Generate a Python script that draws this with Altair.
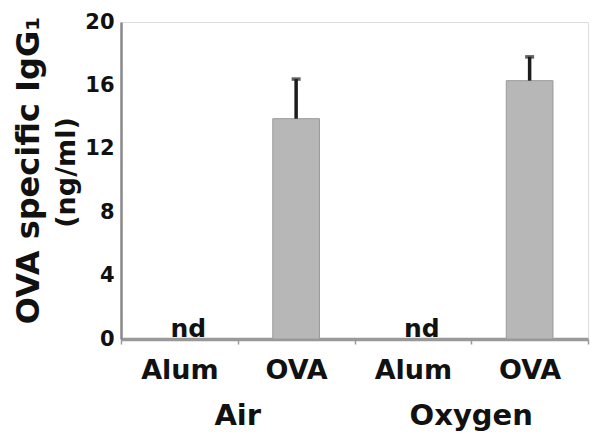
import altair as alt
import pandas as pd

# ---- data ----
groups = ["Air", "Air", "Oxygen", "Oxygen"]
treatments = ["Alum", "OVA", "Alum", "OVA"]
means = [0.0, 13.9, 0.0, 16.3]
upper = [0.0, 16.4, 0.0, 17.8]
detected = [False, True, False, True]
y_ticks = [0, 4, 8, 12, 16, 20]
group_names = ["Air", "Oxygen"]

FONT = "DejaVu Sans"
keys = [f"{g}|{t}" for g, t in zip(groups, treatments)]

df = pd.DataFrame({
    "key": keys,
    "group": groups,
    "treatment": treatments,
    "mean": means,
    "upper": upper,
    "detected": detected,
    "nd": ["" if d else "nd" for d in detected],
})
grp_df = pd.DataFrame({"group": group_names,
                       "key": [f"{g}|OVA" for g in group_names]})

x_scale = alt.Scale(domain=keys, paddingInner=0, paddingOuter=0)
y_scale = alt.Scale(domain=[0, 20], nice=False, zero=True)

x_enc = alt.X(
    "key:N", scale=x_scale, sort=keys, title=None,
    axis=alt.Axis(
        labelExpr="split(datum.value, '|')[1]",
        labelAngle=0, labelFont=FONT, labelFontSize=27, labelFontWeight="bold",
        labelColor="#111", labelPadding=13,
        tickBand="extent", tickSize=5, tickColor="#999", tickWidth=1.5,
        domainColor="#999", domainWidth=3.5,
    ),
)
y_enc = alt.Y(
    "mean:Q", scale=y_scale,
    axis=alt.Axis(
        values=y_ticks, grid=False, tickSize=0,
        labelFont=FONT, labelFontSize=21, labelFontWeight="bold",
        labelColor="#111", labelPadding=7,
        domainColor="#888", domainWidth=2.5,
        title="(ng/ml)", titleFont=FONT, titleFontSize=27, titleFontWeight="bold",
        titleColor="#111", titleX=-55, titleY=150, titleAngle=270,
        titleAlign="center", titleBaseline="middle",
    ),
)

base = alt.Chart(df)

bars = base.transform_filter("datum.detected").mark_bar(
    width=alt.RelativeBandSize(0.4), fill="#b7b7b7", stroke="#9a9a9a", strokeWidth=1
).encode(x=x_enc, y=y_enc)

err = base.transform_filter("datum.detected").mark_rule(
    color="#1c1c1c", strokeWidth=3.5
).encode(x="key:N", y="mean:Q", y2="upper:Q")

cap = base.transform_filter("datum.detected").mark_tick(
    color="#1c1c1c", thickness=3.5, size=9
).encode(x="key:N", y="upper:Q")

nd_text = base.transform_filter("!datum.detected").mark_text(
    font=FONT, fontSize=25, fontWeight="bold", color="#111",
    baseline="alphabetic", dy=-2, dx=9
).encode(x="key:N", y="mean:Q", text="nd:N")

grp_text = alt.Chart(grp_df).mark_text(
    font=FONT, fontSize=29, fontWeight="bold", color="#111",
    baseline="alphabetic", align="center"
).encode(
    x=alt.X("key:N", bandPosition=0),
    y=alt.value(403),
    text="group:N",
)

chart = alt.layer(bars, err, cap, nd_text, grp_text).properties(
    width=467, height=317,
    title=alt.TitleParams(
        text="OVA specific IgG\u2081", orient="left", anchor="middle",
        frame="group", font=FONT, fontSize=32, fontWeight="bold",
        color="#111", offset=6, dx=10,
    ),
    autosize=alt.AutoSizeParams(type="none"),
    padding={"left": 113, "top": 14, "right": 4, "bottom": 95},
).configure_view(stroke="#111", strokeWidth=2.5).configure(background="white")

chart.save("out.html", embed_options={"renderer": "svg", "actions": False})
